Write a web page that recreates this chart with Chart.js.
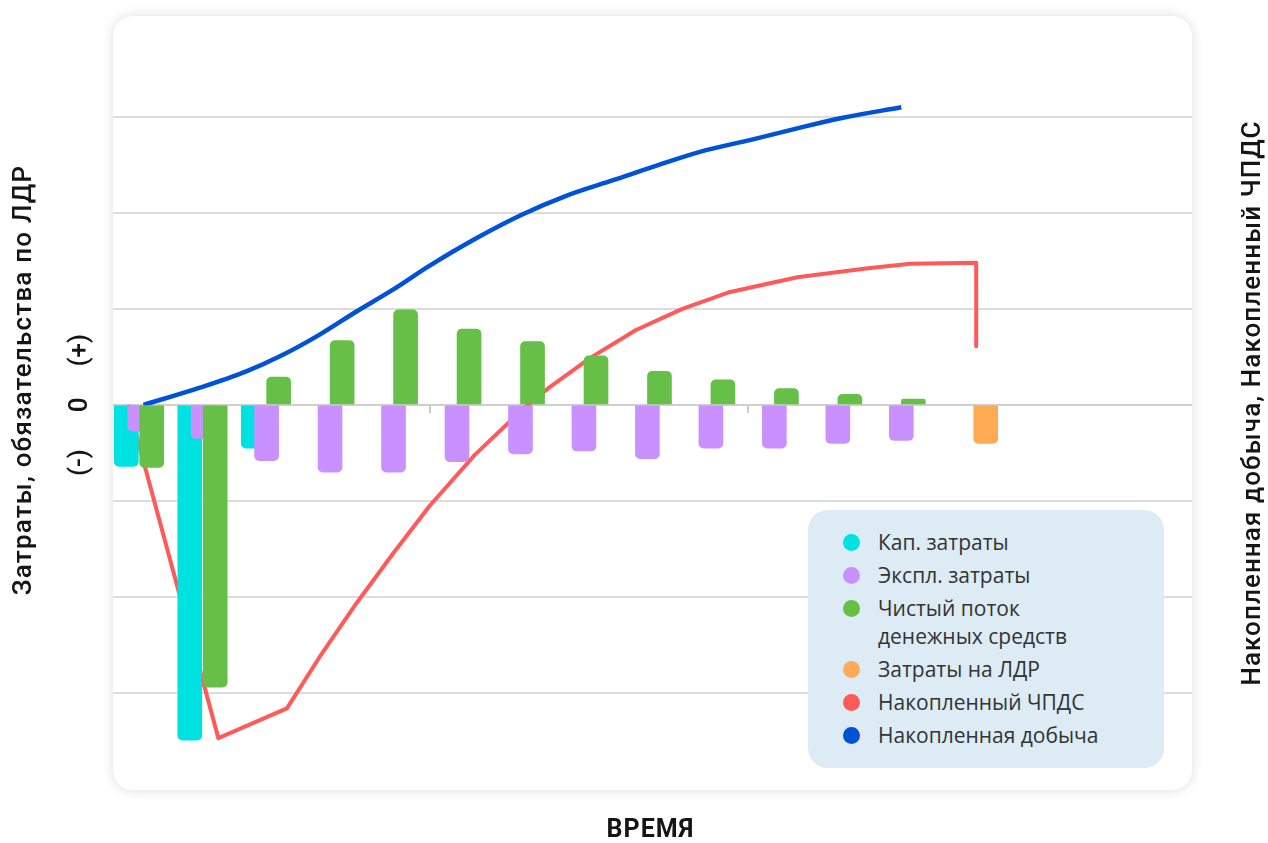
<!DOCTYPE html>
<html lang="ru">
<head>
<meta charset="utf-8">
<script src="https://cdn.jsdelivr.net/npm/chart.js@4.4.1/dist/chart.umd.min.js"></script>
<style>
  html, body { margin: 0; padding: 0; background: #ffffff; width: 1268px; height: 843px; overflow: hidden; }
  #card { position: absolute; left: 113px; top: 16px; width: 1079px; height: 774px; background: #fff;
          border-radius: 20px; box-shadow: 0 0 12px rgba(0,0,0,0.14); }
  #chart { position: absolute; left: 0; top: 0; }
  #legend { position: absolute; left: 808px; top: 510px; width: 356px; height: 258px; box-sizing: border-box;
            background: #dcebf4; border-radius: 20px; padding: 18px 0 0 35px;
            font-family: 'Open Sans', sans-serif; font-size: 21px; color: #333; }
  .item { display: flex; align-items: flex-start; margin-bottom: 5px; line-height: 28px; }
  .dot { width: 17px; height: 17px; border-radius: 50%; margin: 5.5px 18px 0 0; flex: none; }
  .txt { width: 240px; }
</style>
</head>
<body>
<div id="card"></div>
<canvas id="chart" width="1268" height="843"></canvas>
<div id="legend"></div>
<script>
// ---------------- data ----------------
const periods      = [1, 2, 3, 4, 5, 6, 7, 8, 9, 10, 11, 12, 13, 14];
const capex        = [-0.64, -3.49, -0.45, null, null, null, null, null, null, null, null, null, null, null];
const opex         = [-0.27, -0.35, -0.58, -0.70, -0.70, -0.59, -0.51, -0.48, -0.56, -0.45, -0.45, -0.40, -0.37, null];
const netCashFlow  = [-0.65, -2.94, 0.29, 0.67, 0.99, 0.79, 0.66, 0.51, 0.35, 0.26, 0.17, 0.11, 0.06, null];
const abandonment  = [null, null, null, null, null, null, null, null, null, null, null, null, null, -0.40];

const cumNpvTime   = [0.74, 2.16, 3.24, 3.75, 4.33, 4.91, 5.49, 6.20, 6.93, 7.37, 8.02, 8.74, 9.47, 10.19, 11.28, 12.36, 13.06, 14.10, 14.10];
const cumNpv       = [0.00, -3.47, -3.16, -2.63, -2.07, -1.55, -1.05, -0.52, -0.06, 0.18, 0.49, 0.78, 1.00, 1.17, 1.33, 1.42, 1.47, 1.48, 0.61];

const cumProdTime  = [0.98, 1.87, 2.60, 3.17, 3.75, 4.33, 4.91, 5.49, 6.21, 6.94, 7.65, 8.38, 9.10, 9.83, 10.55, 11.28, 12.00, 12.92];
const cumProd      = [0.00, 0.18, 0.35, 0.52, 0.73, 0.97, 1.20, 1.45, 1.73, 1.98, 2.18, 2.34, 2.50, 2.65, 2.76, 2.88, 2.99, 3.10];

const seriesNames  = ['Кап. затраты', 'Экспл. затраты', 'Чистый поток денежных средств',
                      'Затраты на ЛДР', 'Накопленный ЧПДС', 'Накопленная добыча'];
const axisMarks    = [5.5, 10.5];
const leftTitle    = 'Затраты, обязательства по ЛДР';
const signLabels   = ['(-)', '0', '(+)'];
const signValues   = [-0.6, 0, 0.57];
const rightTitle   = 'Накопленная добыча, Накопленный ЧПДС';
const bottomTitle  = 'ВРЕМЯ';

// ---------------- helpers ----------------
const COLORS = { capex: '#00E1E1', opex: '#C991FF', ncf: '#66BF46', aband: '#FFAA55', npv: '#FF5A5A', prod: '#0052D6' };
function barPoints(values, shift) {
  const out = [];
  values.forEach((v, i) => { if (v !== null) out.push({ x: periods[i] + shift, y: v }); });
  return out;
}
function linePoints(xs, ys) { return xs.map((x, i) => ({ x: x, y: ys[i] })); }

const barCommon = { type: 'bar', grouped: false, barThickness: 24, borderRadius: 5, borderSkipped: 'start' };
const lineCommon = { type: 'line', pointRadius: 0, pointHoverRadius: 0, fill: false, borderCapStyle: 'butt', order: 5 };

const captions = {
  id: 'captions',
  afterDraw(chart) {
    const { ctx, chartArea: a, scales } = chart;
    const y = scales.y;
    ctx.save();
    ctx.fillStyle = '#151515';
    ctx.textAlign = 'center';
    ctx.textBaseline = 'middle';
    // left title
    ctx.font = '500 26px Roboto, sans-serif';
    ctx.letterSpacing = '1.2px';
    ctx.save(); ctx.translate(a.left - 89, (a.top + a.bottom) / 2 - 23); ctx.rotate(-Math.PI / 2);
    ctx.fillText(leftTitle, 0, 0); ctx.restore();
    // (-) 0 (+)
    ctx.letterSpacing = '0px';
    signLabels.forEach((t, i) => {
      ctx.save(); ctx.translate(a.left - 33, y.getPixelForValue(signValues[i])); ctx.rotate(-Math.PI / 2);
      ctx.fillText(t, 0, 0); ctx.restore();
    });
    // right title
    ctx.letterSpacing = '1.1px';
    ctx.save(); ctx.translate(a.right + 61, (a.top + a.bottom) / 2); ctx.rotate(-Math.PI / 2);
    ctx.fillText(rightTitle, 0, 0); ctx.restore();
    // bottom title
    ctx.font = '700 25px Roboto, sans-serif';
    ctx.letterSpacing = '1px';
    ctx.fillText(bottomTitle, (a.left + a.right) / 2 - 2, a.bottom + 41);
    ctx.restore();
  }
};

const chart = new Chart(document.getElementById('chart'), {
  data: {
    datasets: [
      { ...barCommon, label: seriesNames[0], data: barPoints(capex, -0.29), backgroundColor: COLORS.capex, order: 4 },
      { ...barCommon, label: seriesNames[1], data: barPoints(opex, -0.08), backgroundColor: COLORS.opex, order: 3 },
      { ...barCommon, label: seriesNames[2], data: barPoints(netCashFlow, 0.11), backgroundColor: COLORS.ncf, order: 2 },
      { ...barCommon, label: seriesNames[3], data: barPoints(abandonment, 0.25), backgroundColor: COLORS.aband, order: 2 },
      { ...lineCommon, label: seriesNames[4], data: linePoints(cumNpvTime, cumNpv), borderColor: COLORS.npv,
        backgroundColor: COLORS.npv, borderWidth: 4, tension: 0, borderJoinStyle: 'round' },
      { ...lineCommon, label: seriesNames[5], data: linePoints(cumProdTime, cumProd), borderColor: COLORS.prod,
        backgroundColor: COLORS.prod, borderWidth: 4.5, cubicInterpolationMode: 'monotone' }
    ]
  },
  options: {
    responsive: false,
    animation: false,
    events: [],
    layout: { padding: { left: 113, top: 16, right: 76, bottom: 53 } },
    plugins: { legend: { display: false }, tooltip: { enabled: false }, title: { display: false } },
    scales: {
      x: { type: 'linear', min: 0.5, max: 17.5, offset: false, display: false },
      xz: {
        type: 'linear', axis: 'x', position: { y: 0 }, min: 0.5, max: 17.5, offset: false,
        afterBuildTicks: (s) => { s.ticks = axisMarks.map(v => ({ value: v })); },
        ticks: { display: false },
        grid: { drawOnChartArea: false, drawTicks: true, tickLength: 8, color: '#cccccc', lineWidth: 2, offset: false },
        border: { display: false }
      },
      y: {
        type: 'linear', min: -4.01, max: 4.05,
        ticks: { display: false, stepSize: 1 },
        border: { display: false },
        grid: {
          drawTicks: false,
          lineWidth: 2,
          color: (c) => {
            const v = c.tick.value;
            if (!Number.isInteger(v) || Math.abs(v) > 3) return 'rgba(0,0,0,0)';
            return v === 0 ? '#cfcfcf' : '#dcdcdc';
          }
        }
      }
    }
  },
  plugins: [captions]
});

// HTML legend built from the chart's datasets
const legendEl = document.getElementById('legend');
chart.data.datasets.forEach(ds => {
  const item = document.createElement('div');
  item.className = 'item';
  const dot = document.createElement('span');
  dot.className = 'dot';
  dot.style.background = ds.borderColor || ds.backgroundColor;
  const txt = document.createElement('span');
  txt.className = 'txt';
  txt.textContent = ds.label;
  item.appendChild(dot); item.appendChild(txt);
  legendEl.appendChild(item);
});
</script>
</body>
</html>
